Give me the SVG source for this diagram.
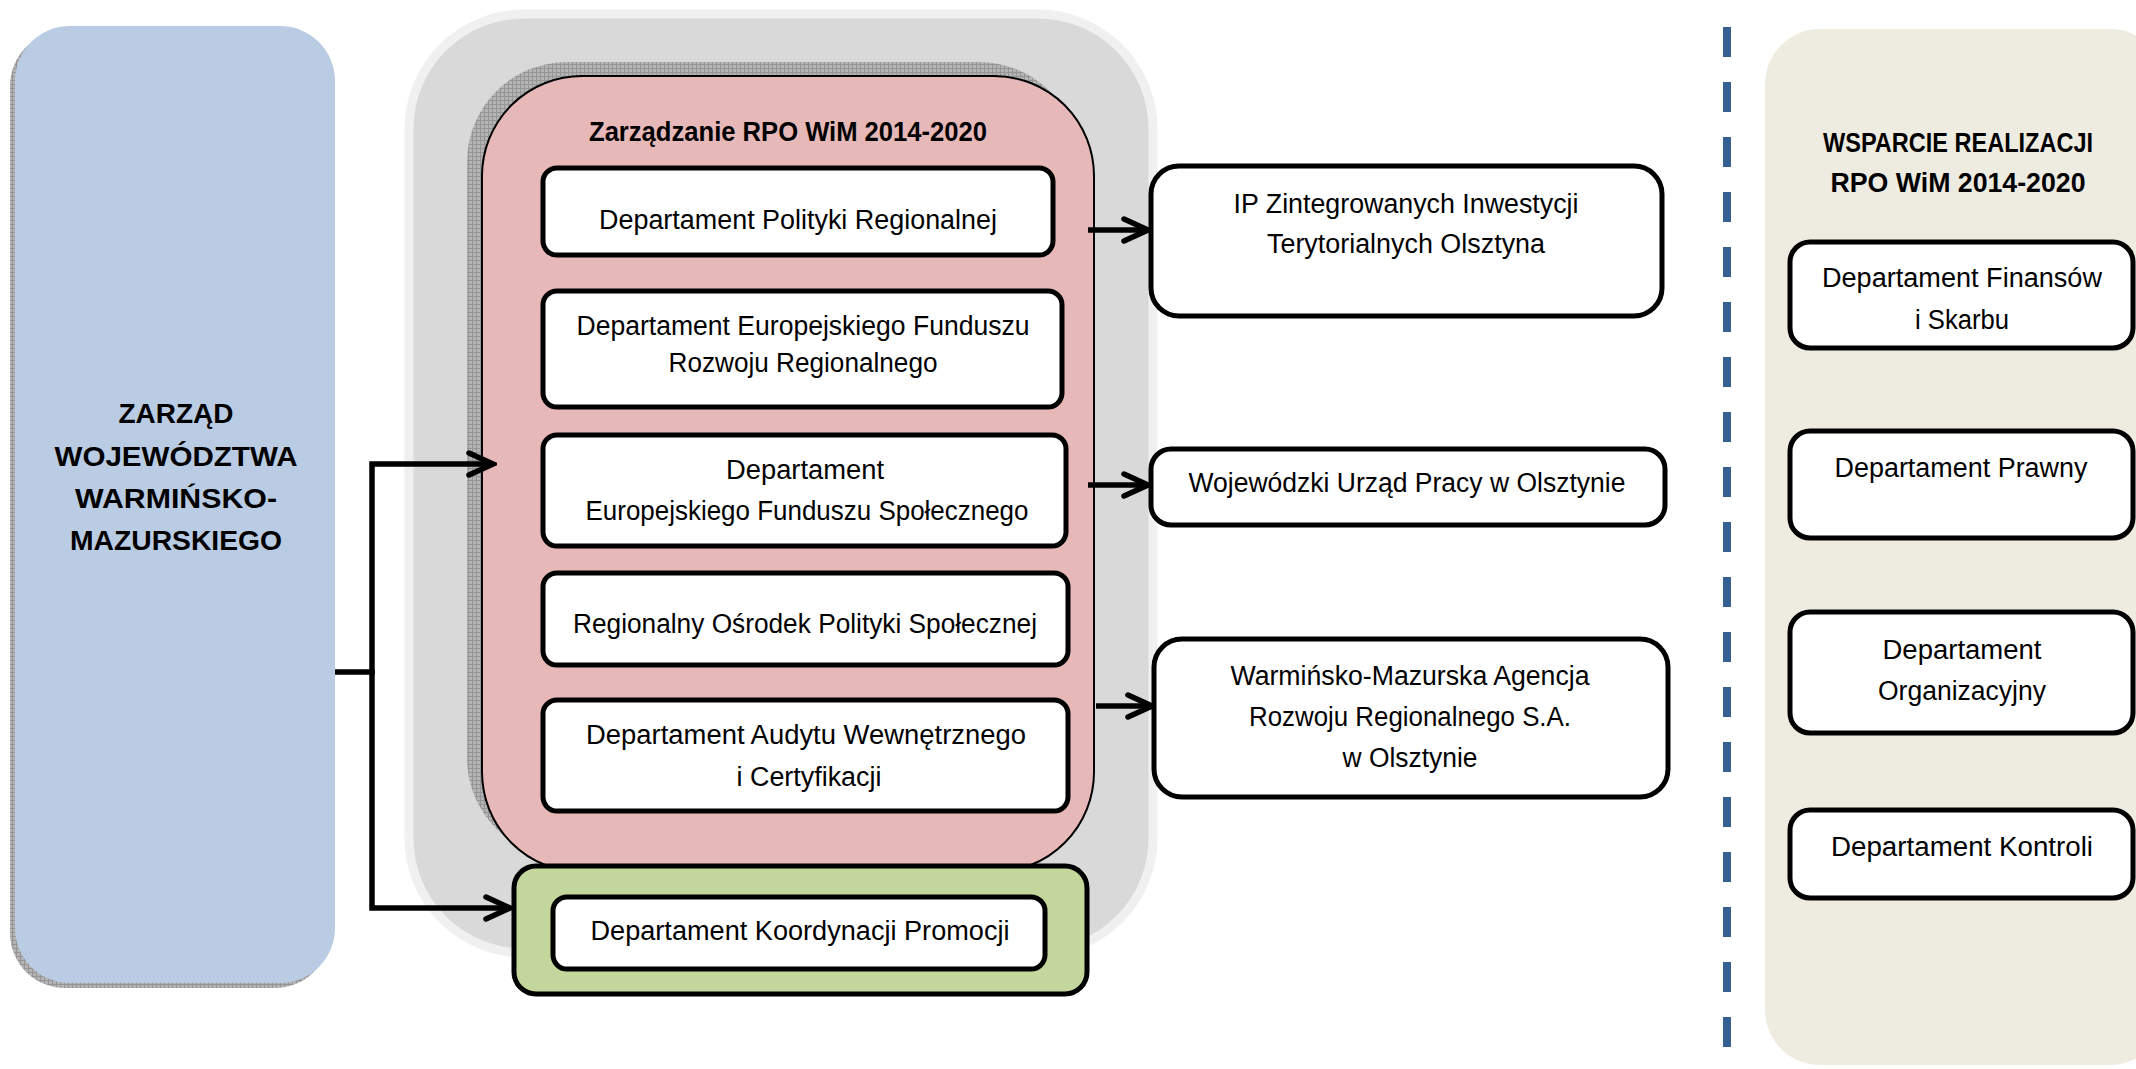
<svg xmlns="http://www.w3.org/2000/svg" width="2136" height="1069" viewBox="0 0 2136 1069">
<style>
.box{fill:#fff;stroke:#000;stroke-width:5}
.t{font-family:"Liberation Sans",Arial,sans-serif;font-size:27px;text-anchor:middle;fill:#000}
.b{font-weight:bold}
.conn{stroke:#000;stroke-width:5.5;fill:none}
</style>
<defs>
<pattern id="hatch" width="4" height="4" patternUnits="userSpaceOnUse">
<rect width="4" height="4" fill="#b4b4b4"/>
<path d="M0,0.5H4M0.5,0V4" stroke="#959595" stroke-width="1"/>
</pattern>
<marker id="arr" markerUnits="userSpaceOnUse" markerWidth="34" markerHeight="34" viewBox="-30 -17 34 34" refX="0" refY="0" orient="auto">
<path d="M-24,-11 L0,0 L-24,11" fill="none" stroke="#000" stroke-width="5.5" stroke-linecap="round" stroke-linejoin="miter"/>
</marker>
</defs>
<rect width="2136" height="1069" fill="#fff"/>

<g id="zarzad">
<rect x="10" y="31" width="320" height="957" rx="55" fill="url(#hatch)"/>
<rect x="15" y="26" width="320" height="957" rx="55" fill="#b9cce4"/>
<text class="t b" font-size="32" x="176" y="423" textLength="115" lengthAdjust="spacingAndGlyphs">ZARZĄD</text>
<text class="t b" font-size="32" x="176" y="466" textLength="243" lengthAdjust="spacingAndGlyphs">WOJEWÓDZTWA</text>
<text class="t b" font-size="32" x="176" y="508" textLength="202" lengthAdjust="spacingAndGlyphs">WARMIŃSKO-</text>
<text class="t b" font-size="32" x="176" y="550" textLength="212" lengthAdjust="spacingAndGlyphs">MAZURSKIEGO</text>
</g>

<g id="outer-group">
<rect x="409" y="14" width="744" height="939" rx="115" fill="#d9d9d9" stroke="#f0f0f0" stroke-width="9"/>
</g>

<g id="zarzadzanie">
<rect x="467" y="62" width="612" height="796" rx="100" fill="url(#hatch)"/>
<rect x="482" y="76" width="612" height="796" rx="100" fill="#e6b8b7" stroke="#000" stroke-width="2"/>
<text class="t b" font-size="27" x="788" y="141" textLength="398" lengthAdjust="spacingAndGlyphs">Zarządzanie RPO WiM 2014-2020</text>
</g>

<g id="dpr">
<rect class="box" x="543" y="168" width="510" height="87" rx="14"/>
<text class="t" x="798" y="229" textLength="398" lengthAdjust="spacingAndGlyphs">Departament Polityki Regionalnej</text>
</g>
<g id="defrr">
<rect class="box" x="543" y="291" width="519" height="116" rx="14"/>
<text class="t" x="803" y="335" textLength="453" lengthAdjust="spacingAndGlyphs">Departament Europejskiego Funduszu</text>
<text class="t" x="803" y="372" textLength="269" lengthAdjust="spacingAndGlyphs">Rozwoju Regionalnego</text>
</g>
<g id="defs">
<rect class="box" x="543" y="435" width="523" height="111" rx="14"/>
<text class="t" x="805" y="479" textLength="158" lengthAdjust="spacingAndGlyphs">Departament</text>
<text class="t" x="807" y="520" textLength="443" lengthAdjust="spacingAndGlyphs">Europejskiego Funduszu Społecznego</text>
</g>
<g id="rops">
<rect class="box" x="543" y="573" width="525" height="92" rx="14"/>
<text class="t" x="805" y="633" textLength="464" lengthAdjust="spacingAndGlyphs">Regionalny Ośrodek Polityki Społecznej</text>
</g>
<g id="dawc">
<rect class="box" x="543" y="700" width="525" height="111" rx="14"/>
<text class="t" x="806" y="744" textLength="440" lengthAdjust="spacingAndGlyphs">Departament Audytu Wewnętrznego</text>
<text class="t" x="809" y="786" textLength="145" lengthAdjust="spacingAndGlyphs">i Certyfikacji</text>
</g>

<g id="promocja">
<rect x="514" y="866" width="573" height="128" rx="22" fill="#c3d69b" stroke="#000" stroke-width="5"/>
<rect class="box" x="553" y="897" width="492" height="72" rx="14"/>
<text class="t" x="800" y="940" textLength="419" lengthAdjust="spacingAndGlyphs">Departament Koordynacji Promocji</text>
</g>

<g id="ip-zit">
<rect class="box" x="1151" y="166" width="511" height="150" rx="28"/>
<text class="t" x="1406" y="213" textLength="345" lengthAdjust="spacingAndGlyphs">IP Zintegrowanych Inwestycji</text>
<text class="t" x="1406" y="253" textLength="278" lengthAdjust="spacingAndGlyphs">Terytorialnych Olsztyna</text>
</g>
<g id="wup">
<rect class="box" x="1151" y="449" width="514" height="76" rx="20"/>
<text class="t" x="1407" y="492" textLength="437" lengthAdjust="spacingAndGlyphs">Wojewódzki Urząd Pracy w Olsztynie</text>
</g>
<g id="wmarr">
<rect class="box" x="1154" y="639" width="514" height="158" rx="28"/>
<text class="t" x="1410" y="685" textLength="359" lengthAdjust="spacingAndGlyphs">Warmińsko-Mazurska Agencja</text>
<text class="t" x="1410" y="726" textLength="322" lengthAdjust="spacingAndGlyphs">Rozwoju Regionalnego S.A.</text>
<text class="t" x="1410" y="767" textLength="135" lengthAdjust="spacingAndGlyphs">w Olsztynie</text>
</g>

<g id="separator">
<line x1="1727" y1="27" x2="1727" y2="1069" stroke="#376092" stroke-width="8" stroke-dasharray="30 25"/>
</g>

<g id="wsparcie">
<rect x="1765" y="29" width="400" height="1036" rx="55" fill="#eeece1"/>
<text class="t b" font-size="27" x="1958" y="152" textLength="270" lengthAdjust="spacingAndGlyphs">WSPARCIE REALIZACJI</text>
<text class="t b" font-size="27" x="1958" y="192" textLength="255" lengthAdjust="spacingAndGlyphs">RPO WiM 2014-2020</text>
</g>
<g id="dfs">
<rect class="box" x="1790" y="242" width="343" height="106" rx="20"/>
<text class="t" x="1962" y="287" textLength="280" lengthAdjust="spacingAndGlyphs">Departament Finansów</text>
<text class="t" x="1962" y="329" textLength="94" lengthAdjust="spacingAndGlyphs">i Skarbu</text>
</g>
<g id="dp">
<rect class="box" x="1790" y="431" width="343" height="107" rx="20"/>
<text class="t" x="1961" y="477" textLength="253" lengthAdjust="spacingAndGlyphs">Departament Prawny</text>
</g>
<g id="do">
<rect class="box" x="1790" y="612" width="343" height="121" rx="20"/>
<text class="t" x="1962" y="659" textLength="159" lengthAdjust="spacingAndGlyphs">Departament</text>
<text class="t" x="1962" y="700" textLength="168" lengthAdjust="spacingAndGlyphs">Organizacyjny</text>
</g>
<g id="dk">
<rect class="box" x="1790" y="810" width="343" height="88" rx="20"/>
<text class="t" x="1962" y="856" textLength="262" lengthAdjust="spacingAndGlyphs">Departament Kontroli</text>
</g>

<g id="connectors">
<path class="conn" d="M335,672 H372 V464 H493" marker-end="url(#arr)"/>
<path class="conn" d="M372,670 V908 H510" marker-end="url(#arr)"/>
<path class="conn" d="M1088,230 H1148" marker-end="url(#arr)"/>
<path class="conn" d="M1088,485 H1148" marker-end="url(#arr)"/>
<path class="conn" d="M1096,706 H1152" marker-end="url(#arr)"/>
</g>
</svg>
